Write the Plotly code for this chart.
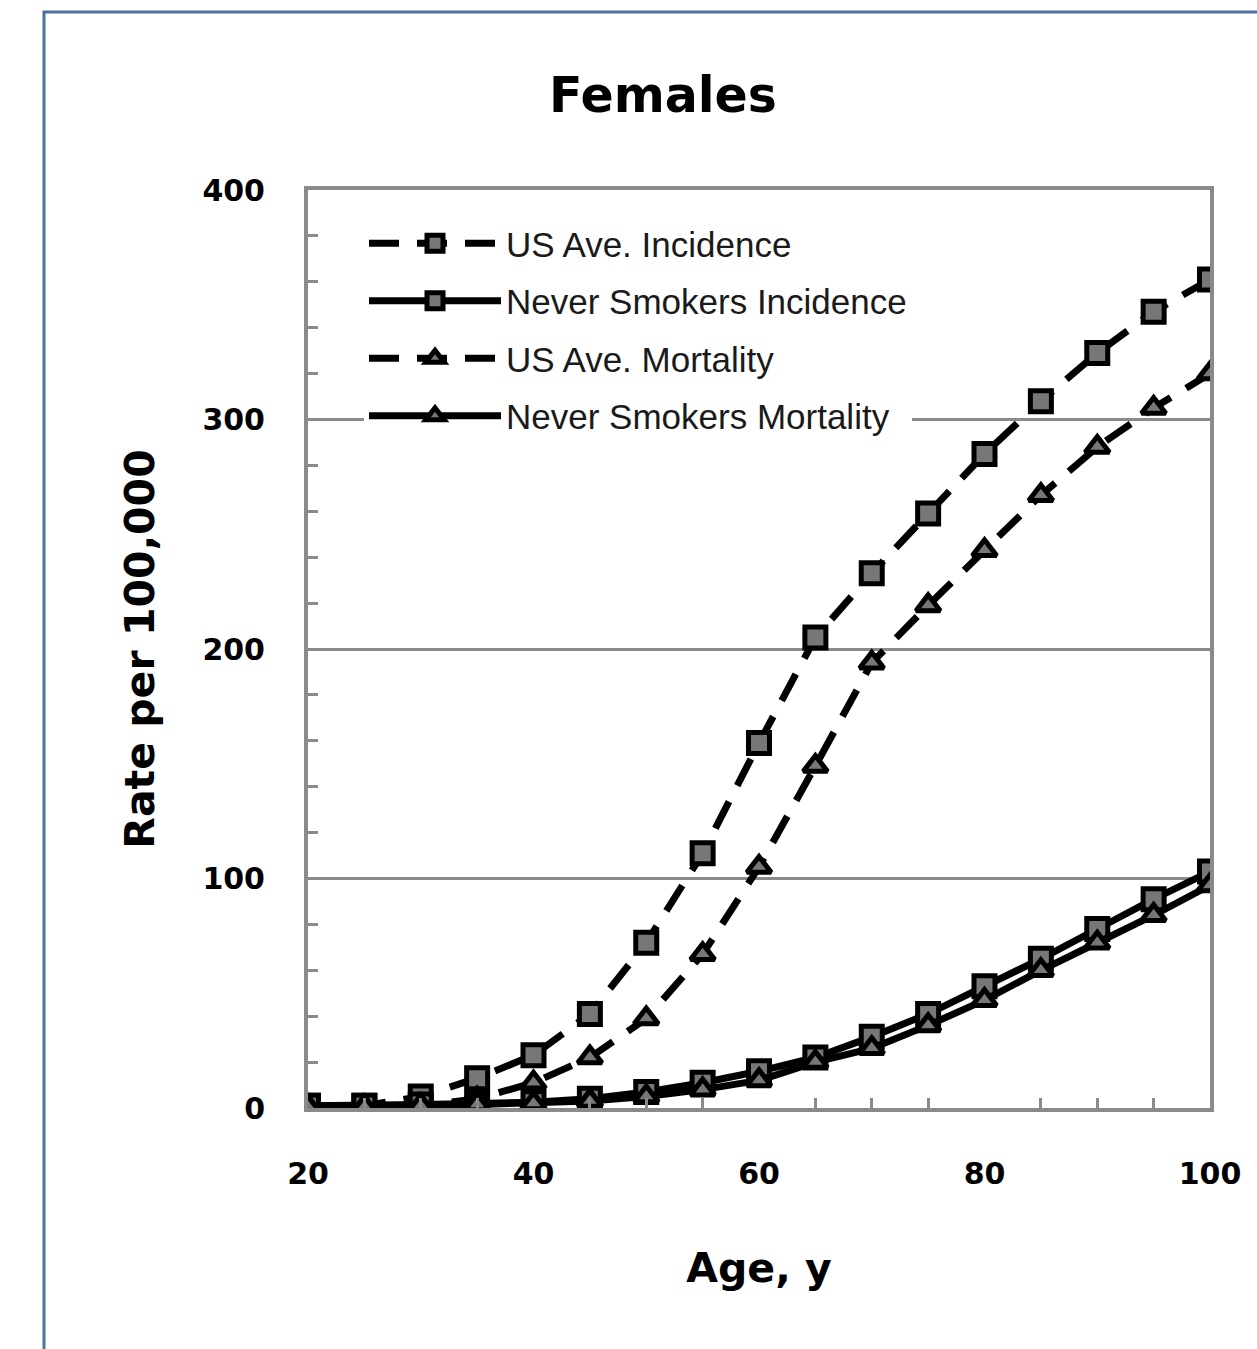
import plotly.graph_objects as go

ages = [20, 25, 30, 35, 40, 45, 50, 55, 60, 65, 70, 75, 80, 85, 90, 95, 100]

us_incidence = [1, 1, 5, 13, 23, 41, 72, 111, 159, 205, 233, 259, 285, 308, 329, 347, 361]
never_incidence = [1, 1, 1.5, 2, 2.5, 4, 7, 11, 16, 22, 31, 41, 53, 65, 78, 91, 103]
us_mortality = [0.5, 0.5, 1, 4, 11, 22, 39, 67, 105, 149, 194, 219, 243, 267, 288, 305, 320]
never_mortality = [0.5, 0.5, 1, 1.5, 2, 3, 5, 8, 12, 20, 26, 36, 47, 60, 72, 84, 97]

series = [
    ("US Ave. Incidence", us_incidence, "square", "dash"),
    ("Never Smokers Incidence", never_incidence, "square", "solid"),
    ("US Ave. Mortality", us_mortality, "triangle-up", "dash"),
    ("Never Smokers Mortality", never_mortality, "triangle-up", "solid"),
]

fig = go.Figure()
for i, (name, vals, sym, dash) in enumerate(series):
    fig.add_trace(go.Scatter(
        x=ages, y=vals, name=name, mode="lines+markers",
        legendgroup=f"g{i}",
        line=dict(color="black", width=7, dash="30px,18px" if dash == "dash" else "solid"),
        marker=dict(symbol=sym, size=21, color="#777777",
                    line=dict(color="black", width=5)),
    ))

W, H = 1257, 1349
L, R, T, B = 308, 1210, 190, 1108

def px(x):
    return (x - L) / (R - L)

def py(y):
    return (B - y) / (B - T)

BOLD = "DejaVu Sans"

fig.update_layout(
    width=W, height=H,
    margin=dict(l=L, r=W - R, t=T, b=H - B, pad=0),
    paper_bgcolor="white", plot_bgcolor="white",
    showlegend=True,
    title=dict(text="<b>Females</b>", x=663 / W, xanchor="center",
               y=1 - 95 / H, yanchor="middle",
               font=dict(family=BOLD, size=49, color="black")),
    legend=dict(x=px(364), y=py(214), xanchor="left", yanchor="top",
                bgcolor="white", borderwidth=0, tracegroupgap=9,
                font=dict(family="Liberation Sans", size=35, color="#1a1a1a"),
                itemwidth=132),
    xaxis=dict(range=[20, 100], dtick=20, tick0=20,
               showline=True, linecolor="#8a8a8a", linewidth=4, mirror=True,
               showgrid=False, zeroline=False,
               ticks="inside", ticklen=0, tickcolor="#8a8a8a",
               ticklabelstandoff=36,
               tickfont=dict(family=BOLD, size=30, color="black"),
               tickprefix="<b>", ticksuffix="</b>",
               minor=dict(dtick=5, ticks="inside", ticklen=10, tickwidth=3,
                          tickcolor="#8a8a8a", showgrid=False),
               title=dict(text="<b>Age, y</b>", standoff=64,
                          font=dict(family=BOLD, size=41, color="black"))),
    yaxis=dict(range=[0, 400], dtick=100,
               showline=True, linecolor="#8a8a8a", linewidth=4, mirror=True,
               showgrid=True, gridcolor="#8a8a8a", gridwidth=3, zeroline=False,
               ticks="inside", ticklen=0, tickcolor="#8a8a8a",
               ticklabelstandoff=33,
               tickfont=dict(family=BOLD, size=30, color="black"),
               tickprefix="<b>", ticksuffix="</b>",
               minor=dict(dtick=20, ticks="inside", ticklen=10, tickwidth=3,
                          tickcolor="#8a8a8a", showgrid=False),
               title=dict(text="<b>Rate per 100,000</b>", standoff=36,
                          font=dict(family=BOLD, size=41, color="black"))),
)

# outer frame
fig.add_shape(type="rect", xref="paper", yref="paper",
              x0=px(44), x1=px(1270), y0=py(1370), y1=py(12),
              line=dict(color="#4f6f9f", width=3), fillcolor="rgba(0,0,0,0)",
              layer="below")

fig.write_html("out.html", config={"displayModeBar": False},
               post_script="document.body.style.margin='0';")
